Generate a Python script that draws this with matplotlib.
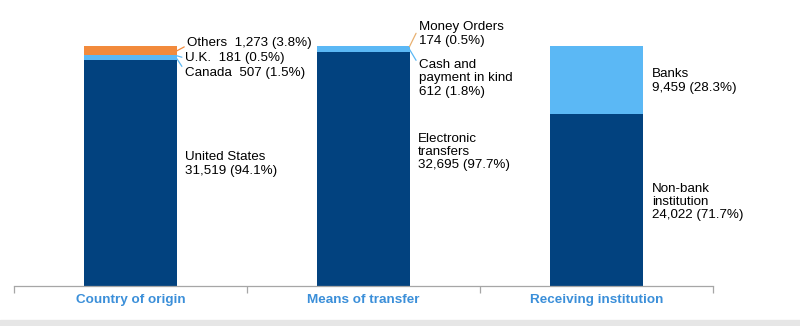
import matplotlib
matplotlib.use("Agg")
import matplotlib.pyplot as plt
from matplotlib.patches import Rectangle
from matplotlib import font_manager

groups = ['Country of origin', 'Means of transfer', 'Receiving institution']

# stacked segments, bottom to top
origin_names = ['United States', 'Canada', 'U.K.', 'Others']
origin_vals = [31519, 507, 181, 1273]
origin_pct = [94.1, 1.5, 0.5, 3.8]

means_names = ['Electronic\ntransfers', 'Cash and\npayment in kind', 'Money Orders']
means_vals = [32695, 612, 174]
means_pct = [97.7, 1.8, 0.5]

inst_names = ['Non-bank\ninstitution', 'Banks']
inst_vals = [24022, 9459]
inst_pct = [71.7, 28.3]

dark = '#02427f'
light = '#5bb8f5'
orange = '#f28a3c'
origin_cols = [dark, light, light, orange]
means_cols = [dark, light, light]
inst_cols = [dark, light]

fams = [f.name for f in font_manager.fontManager.ttflist]
narrow = 'Liberation Sans Narrow' if 'Liberation Sans Narrow' in fams else 'Liberation Sans'
plt.rcParams['font.family'] = ['Liberation Sans', 'DejaVu Sans']

fig = plt.figure(figsize=(8, 3.26), dpi=100)
ax = fig.add_axes([14/800, 1-286/326, 699/800, 240/326])

W = 0.395
stacks = [(origin_vals, origin_cols), (means_vals, means_cols), (inst_vals, inst_cols)]
for i, (vals, cols) in enumerate(stacks):
    b = 0
    for v, c in zip(vals, cols):
        ax.bar(i + 0.5, v, W, bottom=b, color=c, linewidth=0)
        b += v

total = sum(origin_vals)
ax.set_xlim(0, 3)
ax.set_ylim(0, total)

def lab(n, v, p, sep):
    return '%s%s%s (%.1f%%)' % (n, sep, format(v, ','), p)

def ypx(y):
    # pixel row -> data value
    return (286 - y) / 240 * total

fs = 9.6
ls = 1.15
tx = 0.5 + W/2
# country of origin
ax.text(tx + 0.035, ypx(164), lab(origin_names[0], origin_vals[0], origin_pct[0], '\n'),
        fontsize=fs, va='center', ha='left', linespacing=ls)
cum = [sum(origin_vals[:k+1]) for k in range(4)]
others_lab = lab(origin_names[3], origin_vals[3], origin_pct[3], '  ')
uk_lab = lab(origin_names[2], origin_vals[2], origin_pct[2], '  ')
ca_lab = lab(origin_names[1], origin_vals[1], origin_pct[1], '  ')
ax.annotate(others_lab, xy=(tx, cum[3] - 700), xytext=(tx + 0.045, ypx(43)),
            fontsize=fs, va='center', ha='left',
            arrowprops=dict(arrowstyle='-', color=orange, lw=0.9, shrinkA=0, shrinkB=0,
                            relpos=(0, 0.3)))
ax.annotate(uk_lab, xy=(tx, cum[2] - 80), xytext=(tx + 0.035, ypx(58)),
            fontsize=fs, va='center', ha='left',
            arrowprops=dict(arrowstyle='-', color=light, lw=0.9, shrinkA=0, shrinkB=0,
                            relpos=(0, 0.5)))
ax.annotate(ca_lab, xy=(tx, cum[1] - 250), xytext=(tx + 0.035, ypx(73)),
            fontsize=fs, va='center', ha='left',
            arrowprops=dict(arrowstyle='-', color=light, lw=0.9, shrinkA=0, shrinkB=0,
                            relpos=(0, 0.7)))

# means of transfer
tx = 1.5 + W/2
mcum = [sum(means_vals[:k+1]) for k in range(3)]
ax.text(tx + 0.035, ypx(152), lab(means_names[0], means_vals[0], means_pct[0], '\n'),
        fontsize=fs, va='center', ha='left', linespacing=ls)
ax.annotate(lab(means_names[2], means_vals[2], means_pct[2], '\n'), xy=(tx, mcum[2] - 80),
            xytext=(tx + 0.04, ypx(34)), fontsize=fs, va='center', ha='left', linespacing=ls,
            arrowprops=dict(arrowstyle='-', color='#e8b070', lw=0.9, shrinkA=0, shrinkB=0,
                            relpos=(0, 0.75)))
ax.annotate(lab(means_names[1], means_vals[1], means_pct[1], '\n'), xy=(tx, mcum[1] - 300),
            xytext=(tx + 0.04, ypx(78.5)), fontsize=fs, va='center', ha='left', linespacing=ls,
            arrowprops=dict(arrowstyle='-', color=light, lw=0.9, shrinkA=0, shrinkB=0,
                            relpos=(0, 0.85)))

# receiving institution
tx = 2.5 + W/2
ax.text(tx + 0.04, ypx(81), lab(inst_names[1], inst_vals[1], inst_pct[1], '\n'),
        fontsize=fs, va='center', ha='left', linespacing=ls)
ax.text(tx + 0.04, ypx(202), lab(inst_names[0], inst_vals[0], inst_pct[0], '\n'),
        fontsize=fs, va='center', ha='left', linespacing=ls)

# axes styling
for s in ['top', 'right', 'left']:
    ax.spines[s].set_visible(False)
ax.spines['bottom'].set_color('#a6a6a6')
ax.spines['bottom'].set_linewidth(0.9)
ax.set_yticks([])
ax.set_xticks([0, 1, 2, 3])
ax.set_xticklabels([])
ax.tick_params(axis='x', length=5, width=0.9, color='#a6a6a6', direction='out')
for i, g in enumerate(groups):
    ax.text(i + 0.5, -0.058, g, transform=ax.get_xaxis_transform(), ha='center', va='center',
            fontsize=9.7, fontweight='bold', color='#3b8fd9', family=[narrow, 'DejaVu Sans'])

fig.patches.append(Rectangle((0, 0), 1, 6/326, transform=fig.transFigure,
                             color='#e6e6e6', zorder=-1))

plt.savefig('out.png', dpi=100)
